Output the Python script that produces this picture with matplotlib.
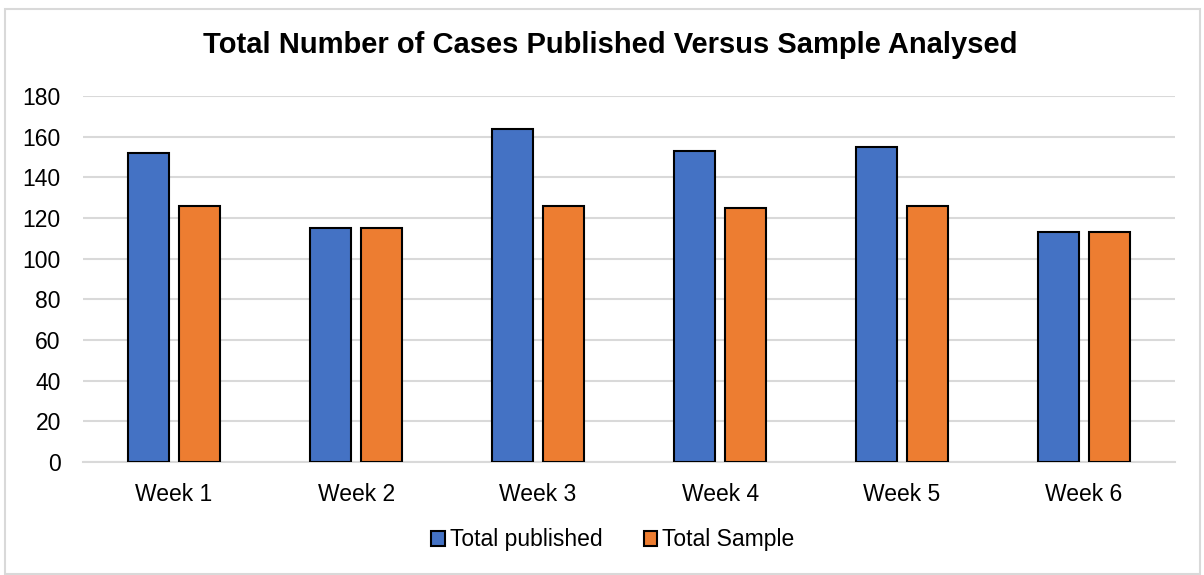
import matplotlib.pyplot as plt
import numpy as np
from matplotlib.patches import Rectangle

plt.rcParams['font.family'] = ['Liberation Sans', 'DejaVu Sans']

weeks = ['Week 1', 'Week 2', 'Week 3', 'Week 4', 'Week 5', 'Week 6']
total_published = [152, 115, 164, 153, 155, 113]
total_sample = [126, 115, 126, 125, 126, 113]

fig = plt.figure(figsize=(12.04, 5.75), dpi=100)
ax = fig.add_axes([0.069, 0.1965, 0.907, 0.6365])

x = np.arange(len(weeks))
w = 0.225
ax.bar(x - 0.142, total_published, w, color='#4472C4', edgecolor='black', linewidth=1.5,
       label='Total published', zorder=3)
ax.bar(x + 0.142, total_sample, w, color='#ED7D31', edgecolor='black', linewidth=1.5,
       label='Total Sample', zorder=3)

ax.set_xlim(-0.5, len(weeks) - 0.5)
ax.set_ylim(0, 180)
ax.set_yticks(range(0, 181, 20))
ax.set_xticks(x)
ax.set_xticklabels(weeks)
ax.tick_params(axis='both', length=0, labelsize=16.5, colors='black')
ax.tick_params(axis='y', pad=16)
ax.tick_params(axis='x', pad=15)
ax.grid(axis='y', color='#d9d9d9', linewidth=1.5, zorder=0)
for s in ['top', 'right', 'left']:
    ax.spines[s].set_visible(False)
ax.spines['bottom'].set_color('#d9d9d9')
ax.spines['bottom'].set_linewidth(1.5)

fig.text(0.507, 0.921, 'Total Number of Cases Published Versus Sample Analysed',
         ha='center', va='center', fontsize=21, fontweight='bold')

ax.legend(loc='center', bbox_to_anchor=(0.485, -0.213), ncol=2, frameon=False,
          fontsize=16.5, handlelength=0.6, handleheight=0.6, handletextpad=0.2,
          columnspacing=1.8)

fig.patches.append(Rectangle((0.004, 0.002), 0.993, 0.982, transform=fig.transFigure,
                             fill=False, edgecolor='#d9d9d9', linewidth=1.5))

fig.savefig('out.png', dpi=100)
